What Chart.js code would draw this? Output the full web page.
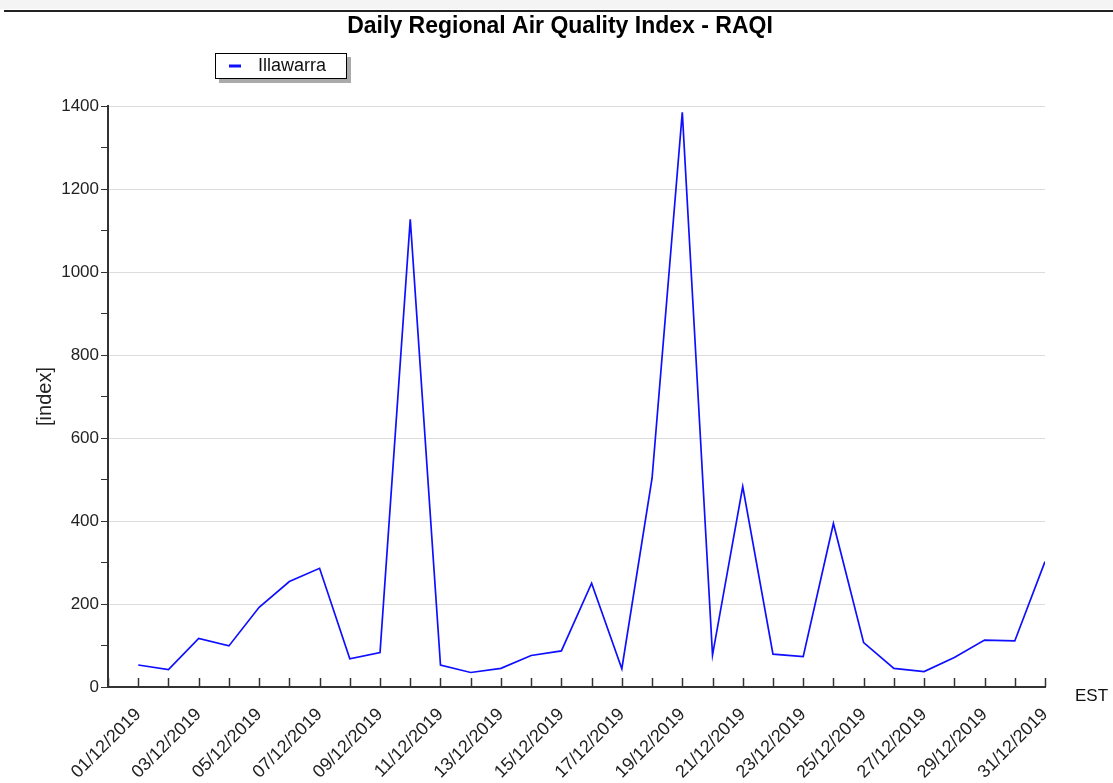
<!DOCTYPE html>
<html>
<head>
<meta charset="utf-8">
<script src="https://cdn.jsdelivr.net/npm/chart.js@4"></script>
<style>
  body { margin: 0; background: #fff; }
  #wrap { width: 1113px; height: 783px; }
</style>
</head>
<body>
<div id="wrap"><canvas id="myChartRaqi" width="1113" height="783"></canvas></div>
<script>
const ctxRaqi = document.getElementById('myChartRaqi');

const chartTitle = 'Daily Regional Air Quality Index - RAQI';
const seriesName = 'Illawarra';
const dates = [
  '01/12/2019', '02/12/2019', '03/12/2019', '04/12/2019', '05/12/2019', '06/12/2019',
  '07/12/2019', '08/12/2019', '09/12/2019', '10/12/2019', '11/12/2019', '12/12/2019',
  '13/12/2019', '14/12/2019', '15/12/2019', '16/12/2019', '17/12/2019', '18/12/2019',
  '19/12/2019', '20/12/2019', '21/12/2019', '22/12/2019', '23/12/2019', '24/12/2019',
  '25/12/2019', '26/12/2019', '27/12/2019', '28/12/2019', '29/12/2019', '30/12/2019',
  '31/12/2019'
];
const raqi = [53, 42, 117, 99, 192, 254, 286, 68, 83, 1127, 53, 35, 45, 76, 87, 250,
  44, 503, 1385, 77, 483, 79, 73, 394, 107, 45, 37, 71, 113, 111, 302];
const yTicks = [0, 200, 400, 600, 800, 1000, 1200, 1400];

const fontName = "'Liberation Sans', Arial, sans-serif";
const lineColor = 'rgb(15, 15, 255)';

// extra drawing: top rule, title, boxed legend, inward x ticks, EST unit
const decor = {
  id: 'decor',
  afterDraw(chart) {
    const c = chart.ctx;
    const area = chart.chartArea;
    const xs = chart.scales.x;
    c.save();

    c.fillStyle = '#f4f4f4';
    c.fillRect(0, 0, 1113, 9);
    c.strokeStyle = '#222';
    c.lineWidth = 2;
    c.beginPath();
    c.moveTo(4, 11);
    c.lineTo(1113, 11);
    c.stroke();

    c.fillStyle = '#000';
    c.font = 'bold 23px ' + fontName;
    c.textAlign = 'center';
    c.textBaseline = 'middle';
    c.fillText(chartTitle, 560, 27);

    // legend box with shadow
    c.textAlign = 'left';
    c.fillStyle = '#aaa';
    c.fillRect(219, 57, 132, 26);
    c.fillStyle = '#fff';
    c.fillRect(215, 53, 132, 26);
    c.strokeStyle = '#000';
    c.lineWidth = 1;
    c.strokeRect(215.5, 53.5, 131, 25);
    c.strokeStyle = chart.data.datasets[0].borderColor;
    c.lineWidth = 3;
    c.beginPath();
    c.moveTo(229, 66);
    c.lineTo(241, 66);
    c.stroke();
    c.fillStyle = '#111';
    c.font = '18px ' + fontName;
    c.fillText(chart.data.datasets[0].label, 258, 66);

    // inward tick marks on the x axis
    c.strokeStyle = '#333';
    c.lineWidth = 1.5;
    for (let i = xs.min; i <= xs.max; i++) {
      const px = Math.round(xs.getPixelForValue(i)) + 0.5;
      c.beginPath();
      c.moveTo(px, area.bottom);
      c.lineTo(px, area.bottom - 9);
      c.stroke();
    }

    c.fillStyle = '#111';
    c.font = '17px ' + fontName;
    c.fillText('EST', area.right + 30, area.bottom + 9);
    c.restore();
  }
};

new Chart(ctxRaqi, {
  type: 'line',
  data: {
    datasets: [{
      label: seriesName,
      data: raqi.map((v, i) => ({ x: i, y: v })),
      borderColor: lineColor,
      borderWidth: 1.7,
      pointRadius: 0,
      tension: 0
    }]
  },
  options: {
    responsive: false,
    animation: false,
    layout: {
      padding: { left: 0, right: 68, top: 106, bottom: 0 }
    },
    plugins: {
      legend: { display: false },
      tooltip: { enabled: false },
      title: { display: false }
    },
    scales: {
      x: {
        type: 'linear',
        min: -1,
        max: dates.length - 1,
        afterFit(scale) { scale.height = 96; },
        afterBuildTicks(scale) {
          scale.ticks = [];
          for (let i = -1; i < dates.length; i++) scale.ticks.push({ value: i });
        },
        border: { color: '#333', width: 2 },
        grid: { drawOnChartArea: false, drawTicks: false },
        ticks: {
          autoSkip: false,
          minRotation: 45,
          maxRotation: 45,
          padding: 17,
          color: '#222',
          font: { family: fontName, size: 18 },
          callback: (v) => (v >= 0 && v % 2 === 0) ? dates[v] : ''
        }
      },
      y: {
        min: 0,
        max: 1400,
        afterFit(scale) { scale.width = 108; },
        afterBuildTicks(scale) {
          scale.ticks = [];
          for (let v = 0; v <= 1400; v += 100) scale.ticks.push({ value: v });
        },
        border: { color: '#333', width: 2 },
        grid: {
          color: (ctx) => (ctx.tick && yTicks.includes(ctx.tick.value) && ctx.tick.value > 0) ? '#dcdcdc' : 'rgba(0,0,0,0)',
          tickColor: '#333',
          tickLength: 7
        },
        title: {
          display: true,
          text: '[index]',
          color: '#222',
          font: { family: fontName, size: 20 },
          padding: { top: 33, bottom: 0 }
        },
        ticks: {
          autoSkip: false,
          padding: 2,
          color: '#222',
          font: { family: fontName, size: 17 },
          callback: (v) => yTicks.includes(v) ? String(v) : ''
        }
      }
    }
  },
  plugins: [decor]
});
</script>
</body>
</html>
